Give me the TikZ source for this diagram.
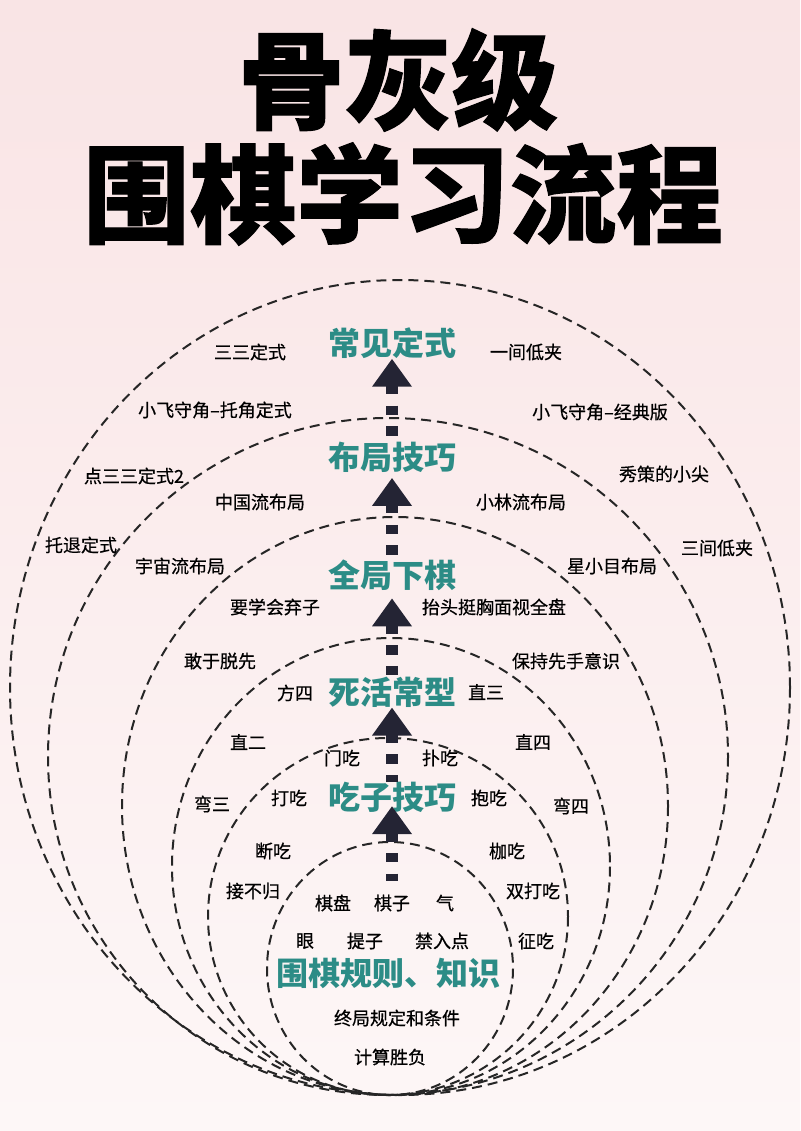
\documentclass[tikz,border=0pt]{standalone}
\usepackage{fontspec}
\setmainfont{Noto Sans CJK SC}
\newfontfamily\titlefont[BoldFeatures={FakeBold=1}]{Noto Sans CJK SC}
\newfontfamily\itemfont[FakeBold=0.6]{Noto Sans CJK SC}
\usetikzlibrary{arrows.meta}
\definecolor{headteal}{RGB}{44,140,134}
\definecolor{arrownavy}{RGB}{36,36,52}
\definecolor{ringgray}{RGB}{38,38,38}
\definecolor{bgtop}{RGB}{249,228,229}
\definecolor{bgbottom}{RGB}{253,247,247}
\tikzset{
  ring/.style={draw=ringgray, line width=1.5pt, dash pattern=on 7.5pt off 4.5pt},
  title/.style={text=black, font=\titlefont\fontsize{80}{90}\selectfont\bfseries, inner sep=0pt},
  head/.style={text=headteal, font=\fontsize{24}{28}\selectfont\bfseries, inner sep=0pt},
  item/.style={text=black, font=\itemfont\fontsize{13.5}{16}\selectfont, inner sep=0pt},
  rise/.style={color=arrownavy, line width=9pt, dash pattern=on 7pt off 8.5pt, {Triangle[width=28.5pt,length=21pt]}-},
}

\begin{document}
\begin{tikzpicture}[x=0.75pt,y=0.75pt,yscale=-1,xscale=1]
	\shade [top color=bgtop, bottom color=bgbottom] (0,0) rectangle (800,1131) ;
	\useasboundingbox (0,0) rectangle (800,1131) ;
	\draw (398,80) node [title] (gutitle) {骨灰级};
	\draw (403,194) node [title] (liucheng) {围棋学习流程};
	\draw [ring] (390,968.5) ellipse [x radius=123, y radius=126.5] ;
	\draw [ring] (388,916.5) ellipse [x radius=180, y radius=178.5] ;
	\draw [ring] (391,866.5) ellipse [x radius=219, y radius=228.5] ;
	\draw [ring] (395,806) ellipse [x radius=273, y radius=289] ;
	\draw [ring] (388,756.5) ellipse [x radius=340, y radius=338.5] ;
	\draw [ring] (400,687.5) ellipse [x radius=390, y radius=407.5] ;
	\draw (392,343) node [head] (dingshi) {常见定式};
	\draw (392,457) node [head] (buju) {布局技巧};
	\draw (392,575) node [head] (quanju) {全局下棋};
	\draw (392,692) node [head] (sihuo) {死活常型};
	\draw (392,797) node [head] (chizi) {吃子技巧};
	\draw (388,973) node [head] (guize) {围棋规则、知识};
	\draw (250,352) node [item] (sansan) {三三定式};
	\draw (526,352) node [item] (yijian) {一间低夹};
	\draw (215,410) node [item] (tuojiao) {小飞守角–托角定式};
	\draw (600,412) node [item] (jingdian) {小飞守角–经典版};
	\draw (134,476) node [item] (diansansan) {点三三定式2};
	\draw (664,474) node [item] (xiuce) {秀策的小尖};
	\draw (260,502) node [item] (zhongguo) {中国流布局};
	\draw (521,502) node [item] (xiaolin) {小林流布局};
	\draw (81,545) node [item] (tuotui) {托退定式};
	\draw (717,548) node [item] (sanjian) {三间低夹};
	\draw (180,566) node [item] (yuzhou) {宇宙流布局};
	\draw (612,566) node [item] (xingxiaomu) {星小目布局};
	\draw (275,607) node [item] (qizi) {要学会弃子};
	\draw (494,607) node [item] (taitou) {抬头挺胸面视全盘};
	\draw (220,661) node [item] (tuoxian) {敢于脱先};
	\draw (566,661) node [item] (xianshou) {保持先手意识};
	\draw (295,693) node [item] (fangsi) {方四};
	\draw (486,692) node [item] (zhisan) {直三};
	\draw (248,742) node [item] (zhier) {直二};
	\draw (533,742) node [item] (zhisi) {直四};
	\draw (342,758) node [item] (menchi) {门吃};
	\draw (440,758) node [item] (puchi) {扑吃};
	\draw (212,804) node [item] (wansan) {弯三};
	\draw (289,798) node [item] (dachi) {打吃};
	\draw (489,798) node [item] (baochi) {抱吃};
	\draw (571,806) node [item] (wansi) {弯四};
	\draw (273,851) node [item] (duanchi) {断吃};
	\draw (507,851) node [item] (jiachi) {枷吃};
	\draw (253,891) node [item] (jiebugui) {接不归};
	\draw (533,891) node [item] (shuangda) {双打吃};
	\draw (333,903) node [item] (qipan) {棋盘};
	\draw (392,903) node [item] (qizis) {棋子};
	\draw (445,903) node [item] (qi) {气};
	\draw (305,941) node [item] (yan) {眼};
	\draw (365,941) node [item] (tizi) {提子};
	\draw (442,941) node [item] (jinru) {禁入点};
	\draw (536,941) node [item] (zhengchi) {征吃};
	\draw (397,1018) node [item] (zhongju) {终局规定和条件};
	\draw (390,1057) node [item] (shengfu) {计算胜负};
	\draw [rise, shorten <=-4.8pt, shorten >=10pt] (chizi.south) -- (qizis.north) ;
	\draw [rise] (sihuo.south) -- (chizi.north) ;
	\draw [rise, shorten <=5.7pt] (quanju.south) -- (sihuo.north) ;
	\draw [rise, shorten <=4pt] (buju.south) -- (quanju.north) ;
	\draw [rise] (dingshi.south) -- (buju.north) ;
\end{tikzpicture}
\end{document}
